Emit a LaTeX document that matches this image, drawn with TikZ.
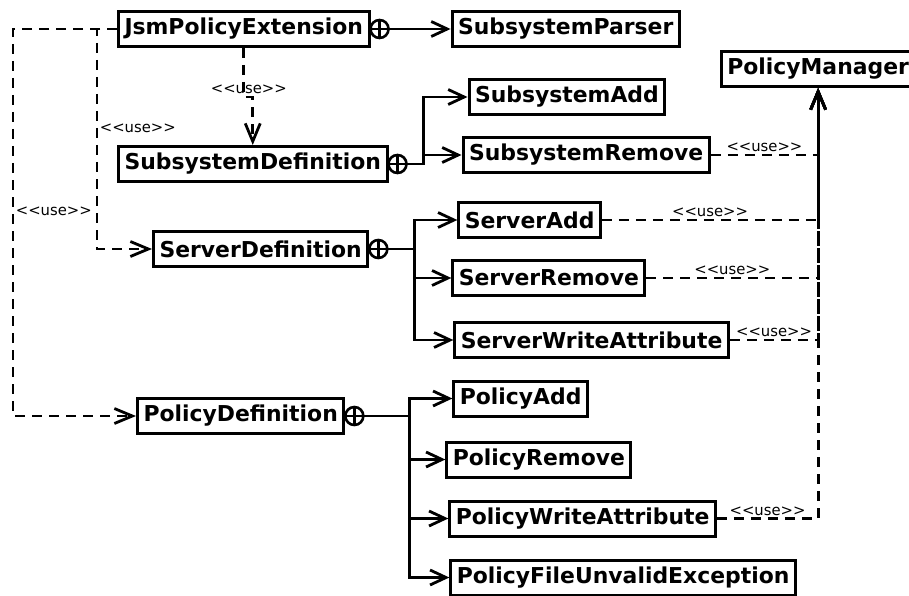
\documentclass[tikz,border=0pt]{standalone}
\usepackage{fontspec}
\setmainfont{DejaVu Sans}
\usetikzlibrary{arrows.meta, positioning}
\newcommand{\usestereo}{<{}<use>{}>}

\begin{document}
\begin{tikzpicture}[
  x=1pt, y=1pt,
  cls/.style={rectangle, draw, line width=3pt, inner xsep=6pt, minimum height=35pt, font=\fontsize{21.9pt}{26pt}\selectfont\bfseries},
  nest/.style={circle, draw, line width=2.6pt, minimum size=18pt, inner sep=0pt, outer sep=0pt, path picture={\draw[line width=2.6pt] (path picture bounding box.north) -- (path picture bounding box.south) (path picture bounding box.west) -- (path picture bounding box.east);}},
  nestline/.style={line width=2.8pt, -{Straight Barb[length=16pt,width=15pt]}},
  dep/.style={line width=2.8pt, dash pattern=on 10pt off 7pt, -{Straight Barb[length=18pt,width=15pt]}},
  stereo/.style={font=\fontsize{14.8pt}{17pt}\selectfont, inner sep=1.5pt},
]
\useasboundingbox (0,0) rectangle (909,-596);

\node[cls, anchor=west] (jsm) at (117,-29) {JsmPolicyExtension};
\node[nest, right=0pt of jsm] (jsmx) {};
\node[cls, right=62pt of jsmx] (parser) {SubsystemParser};
\node[cls, below right=2pt and 39pt of parser] (pm) {PolicyManager};

\node[cls, below=97pt of jsm.south west, anchor=north west] (ssdef) {SubsystemDefinition};
\node[nest, right=0pt of ssdef] (ssdefx) {};
\node[cls, right=55pt of ssdefx, yshift=9pt] (ssrem) {SubsystemRemove};
\node[cls, above=20pt of ssrem.north west, anchor=south west, xshift=6pt] (ssadd) {SubsystemAdd};

\node[cls, below=47pt of ssdef.south west, anchor=north west, xshift=35pt] (srvdef) {ServerDefinition};
\node[nest, right=0pt of srvdef] (srvdefx) {};
\node[cls, right=64pt of srvdefx, yshift=-29pt] (srvrem) {ServerRemove};
\node[cls, above=20pt of srvrem.north west, anchor=south west, xshift=6pt] (srvadd) {ServerAdd};
\node[cls, below=24pt of srvrem.south west, anchor=north west, xshift=2pt] (srvwa) {ServerWriteAttribute};

\node[cls, below=129pt of srvdef.south west, anchor=north west, xshift=-16pt] (poldef) {PolicyDefinition};
\node[nest, right=0pt of poldef] (poldefx) {};
\node[cls, right=89pt of poldefx, yshift=17.5pt] (poladd) {PolicyAdd};
\node[cls, below=23pt of poladd.south west, anchor=north west, xshift=-7pt] (polrem) {PolicyRemove};
\node[cls, below=21pt of polrem.south west, anchor=north west, xshift=3pt] (polwa) {PolicyWriteAttribute};
\node[cls, below=21pt of polwa.south west, anchor=north west, xshift=1pt] (polfue) {PolicyFileUnvalidException};

% nested classes
\draw[nestline] (jsmx) -- (parser);
\draw[nestline] (ssdefx.east) -- ++(17,0) coordinate (ssj) |- (ssadd);
\draw[nestline] (ssj) |- (ssrem);
\draw[nestline] (srvdefx.east) -- ++(27,0) coordinate (srvj) |- (srvadd);
\draw[nestline] (srvj) |- (srvrem);
\draw[nestline] (srvj) |- (srvwa);
\draw[nestline] (poldefx.east) -- ++(46,0) coordinate (polj) |- (poladd);
\draw[nestline] (polj) |- (polrem);
\draw[nestline] (polj) |- (polwa);
\draw[nestline] (polj) |- (polfue);

% use dependencies
\draw[dep] (jsm.south) -- ++(0,-49) node[stereo, above, xshift=5pt] {\usestereo} -| (ssdef.north);
\draw[dep] (jsm.west) -- ++(-20,0) |- node[stereo, pos=0.225, right] {\usestereo} (srvdef);
\draw[dep] (jsm.west) -- ++(-104,0) |- node[stereo, pos=0.236, right] {\usestereo} (poldef);
\foreach \src in {ssrem, srvadd, srvrem, srvwa, polwa}
  \draw[dep] (\src) -| node[stereo, pos=0.25, above] {\usestereo} (pm);

\end{tikzpicture}
\end{document}
